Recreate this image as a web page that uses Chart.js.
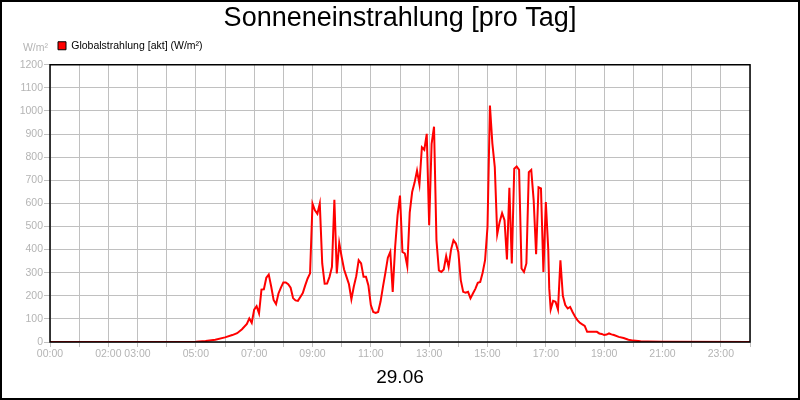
<!DOCTYPE html>
<html>
<head>
<meta charset="utf-8">
<script src="https://cdn.jsdelivr.net/npm/chart.js@4"></script>
<style>
  html, body { margin: 0; padding: 0; background: #ffffff; }
  canvas { display: block; }
</style>
</head>
<body>
<canvas id="c" width="800" height="400"></canvas>
<script>
const chartTitle = "Sonneneinstrahlung [pro Tag]";
const dateLabel = "29.06";
const seriesName = "Globalstrahlung [akt] (W/m²)";
const unitLabel = "W/m²";

const times = [
  "00:00","04:30","05:00","05:20","05:40","06:00","06:15","06:25","06:35","06:45","06:50","06:55",
  "07:00","07:05","07:10","07:15","07:20","07:25","07:30","07:35","07:40","07:45","07:50","07:55",
  "08:00","08:05","08:10","08:15","08:20","08:25","08:30","08:35","08:40","08:45","08:50","08:55",
  "09:00","09:05","09:10","09:15","09:20","09:25","09:30","09:35","09:40","09:45","09:50","09:55",
  "10:00","10:05","10:10","10:15","10:20","10:25","10:30","10:35","10:40","10:45","10:50","10:55",
  "11:00","11:05","11:10","11:15","11:20","11:25","11:30","11:35","11:40","11:45","11:50","11:55",
  "12:00","12:05","12:10","12:15","12:20","12:25","12:30","12:35","12:40","12:45","12:50","12:55",
  "13:00","13:05","13:10","13:15","13:20","13:25","13:30","13:35","13:40","13:45","13:50","13:55",
  "14:00","14:05","14:10","14:15","14:20","14:25","14:30","14:35","14:40","14:45","14:50","14:55",
  "15:00","15:05","15:10","15:15","15:20","15:25","15:30","15:35","15:40","15:45","15:50","15:55",
  "16:00","16:05","16:10","16:15","16:20","16:25","16:30","16:35","16:40","16:45","16:50","16:55",
  "17:00","17:05","17:07","17:10","17:15","17:20","17:25","17:30","17:35","17:40","17:45","17:50","17:55",
  "18:00","18:05","18:10","18:15","18:20","18:25","18:30","18:40","18:45","18:50","18:55",
  "19:00","19:05","19:10","19:15","19:20","19:30","19:40","19:50",
  "20:00","20:15","20:30","21:00","24:00"
];

const values = [
  0,0,1,4,10,20,30,38,55,78,102,83,
  140,155,124,227,228,278,292,240,182,164,210,235,
  258,258,250,235,190,180,178,195,212,245,275,297,
  599,570,555,599,340,252,253,282,325,616,297,429,
  368,314,282,250,185,240,285,354,340,282,282,245,
  160,130,126,130,175,240,300,365,390,217,411,548,
  634,390,383,328,560,649,690,742,682,843,832,901,
  505,858,932,440,310,303,314,372,325,400,440,426,
  390,268,217,213,217,189,210,230,256,260,300,354,
  498,1023,860,757,466,520,558,527,357,668,340,750,
  760,745,318,303,340,735,745,613,380,670,665,303,
  606,400,232,141,178,174,140,354,200,160,145,152,130,
  110,95,83,76,70,44,44,44,44,37,35,
  30,32,37,33,30,22,17,10,
  6,3,2,1,0
];

const xTickLabels = ["00:00","02:00","03:00","05:00","07:00","09:00","11:00","13:00","15:00","17:00","19:00","21:00","23:00"];
const yMin = 0, yMax = 1200, yStep = 100;

function toHours(t) {
  const p = t.split(":");
  return parseInt(p[0], 10) + parseInt(p[1], 10) / 60;
}
function hourLabel(h) {
  return (h < 10 ? "0" : "") + h + ":00";
}

const points = times.map((t, i) => ({ x: toHours(t), y: values[i] }));

const FONT = "Arial, 'Liberation Sans', sans-serif";
const GRAY_TEXT = "#b4b4b4";
const GRID = "#c0c0c0";

const framePlugin = {
  id: "frame",
  beforeInit(chart) {
    const lg = chart.legend;
    if (lg) {
      const origFit = lg.fit;
      lg.fit = function () {
        origFit.call(this);
        this.height = 32.25;
      };
    }
  },
  beforeDraw(chart) {
    const ctx = chart.ctx;
    ctx.save();
    ctx.fillStyle = "#ffffff";
    ctx.fillRect(0, 0, chart.width, chart.height);
    ctx.restore();
  },
  afterDatasetsDraw(chart) {
    const ctx = chart.ctx;
    const a = chart.chartArea;
    ctx.save();
    ctx.strokeStyle = "#000000";
    ctx.lineWidth = 1.5;
    ctx.strokeRect(a.left, a.top, a.right - a.left, a.bottom - a.top);
    ctx.restore();
  },
  afterDraw(chart) {
    const ctx = chart.ctx;
    const ys = chart.scales.y;
    ctx.save();
    ctx.fillStyle = GRAY_TEXT;
    ctx.font = "10.5px " + FONT;
    ctx.textAlign = "right";
    ctx.textBaseline = "middle";
    ctx.fillText(unitLabel, ys.right - 2, ys.top - 17);
    ctx.strokeStyle = "#000000";
    ctx.lineWidth = 2;
    ctx.strokeRect(1, 1, chart.width - 2, chart.height - 2);
    ctx.restore();
  }
};

new Chart(document.getElementById("c"), {
  type: "line",
  data: {
    datasets: [{
      label: seriesName,
      data: points,
      borderColor: "#ff0000",
      backgroundColor: "#ff0000",
      borderWidth: 2,
      pointRadius: 0,
      tension: 0,
      fill: false
    }]
  },
  options: {
    responsive: false,
    animation: false,
    devicePixelRatio: 1,
    layout: { padding: { left: 0, right: 50, top: 0, bottom: 0 } },
    plugins: {
      title: {
        display: true,
        fullSize: false,
        text: chartTitle,
        color: "#000000",
        font: { family: FONT, size: 27, weight: "normal", lineHeight: 1.0 },
        padding: { top: 5.5, bottom: 0 }
      },
      legend: {
        display: true,
        fullSize: false,
        position: "top",
        align: "start",
        labels: {
          boxWidth: 8,
          boxHeight: 8,
          padding: 8,
          color: "#000000",
          font: { family: FONT, size: 10.5 },
          generateLabels(chart) {
            return chart.data.datasets.map((ds, i) => ({
              text: ds.label,
              fillStyle: "#ff0000",
              strokeStyle: "#000000",
              lineWidth: 1,
              hidden: false,
              datasetIndex: i,
              fontColor: "#000000"
            }));
          }
        }
      },
      tooltip: { enabled: false }
    },
    scales: {
      x: {
        type: "linear",
        min: 0,
        max: 24,
        afterFit(scale) { scale.height = 58; },
        afterBuildTicks(scale) {
          const t = [];
          for (let h = 0; h <= 24; h++) t.push({ value: h });
          scale.ticks = t;
        },
        ticks: {
          autoSkip: false,
          maxRotation: 0,
          color: GRAY_TEXT,
          font: { family: FONT, size: 10.5 },
          padding: 1,
          callback(v) {
            const lab = hourLabel(v);
            return xTickLabels.indexOf(lab) >= 0 ? lab : "";
          }
        },
        grid: { color: GRID, lineWidth: 1, tickLength: 5, tickColor: GRID },
        border: { display: false },
        title: {
          display: true,
          text: dateLabel,
          color: "#000000",
          font: { family: FONT, size: 19 },
          padding: { top: 0, bottom: 11.2 }
        }
      },
      y: {
        min: yMin,
        max: yMax,
        afterFit(scale) { scale.width = 50; },
        ticks: {
          stepSize: yStep,
          color: GRAY_TEXT,
          font: { family: FONT, size: 10.5 },
          padding: 1,
          callback(v) { return String(v); }
        },
        grid: { color: GRID, lineWidth: 1, tickLength: 6, tickColor: GRID },
        border: { display: false }
      }
    }
  },
  plugins: [framePlugin]
});
</script>
</body>
</html>
